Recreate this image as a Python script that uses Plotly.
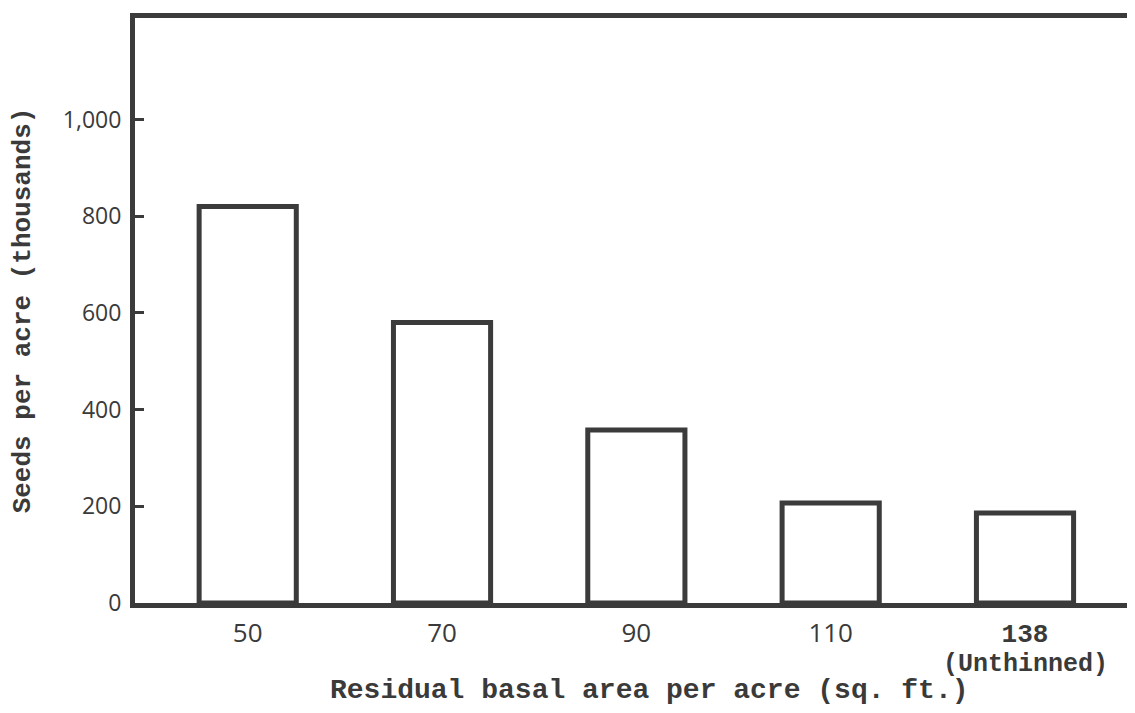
import plotly.graph_objects as go

categories = ["50", "70", "90", "110", "138"]
category_labels = ["50", "70", "90", "110",
                   "<span style='font-family:Liberation Mono;font-weight:bold'>138</span>"]
unthinned_note = "(Unthinned)"
seeds_thousands = [820, 580, 358, 207, 186]
y_tick_values = [0, 200, 400, 600, 800, 1000]
y_tick_labels = ["0", "200", "400", "600", "800", "1,000"]
x_title = "Residual basal area per acre (sq. ft.)"
y_title = "Seeds per acre (thousands)"

ink = "#3b3b3b"
text_ink = "#3a3a3a"
sans = "Open Sans, DejaVu Sans, sans-serif"
mono = "Liberation Mono, Courier New, monospace"

# the page body adds an 8px margin, so the figure is sized to fit the window
fig = go.Figure(
    go.Bar(
        x=categories,
        y=seeds_thousands,
        width=0.5,
        marker=dict(color="white", line=dict(color=ink, width=5)),
        hoverinfo="x+y",
    )
)

fig.update_layout(
    width=1127,
    height=705,
    margin=dict(l=127, r=7, t=10, b=110),
    paper_bgcolor="white",
    plot_bgcolor="white",
    showlegend=False,
    font=dict(family=sans, color=text_ink, size=22),
)

fig.update_xaxes(
    type="category",
    range=[-0.58, 4.53],
    tickvals=categories,
    ticktext=category_labels,
    showline=True,
    linecolor=ink,
    linewidth=5,
    mirror=True,
    showgrid=False,
    ticks="",
    ticklabelstandoff=3,
    automargin=False,
    tickfont=dict(size=26, family=sans, color=text_ink),
)

fig.update_yaxes(
    range=[0, 1210],
    tickvals=y_tick_values,
    ticktext=y_tick_labels,
    showline=True,
    linecolor=ink,
    linewidth=5,
    mirror=True,
    showgrid=False,
    zeroline=False,
    ticks="inside",
    ticklen=9,
    tickwidth=3,
    tickcolor=ink,
    ticklabelstandoff=4,
    automargin=False,
    tickfont=dict(size=23, family=sans, color=text_ink),
    title=dict(
        text=y_title,
        font=dict(size=26, family=mono, color=text_ink, weight="bold"),
        standoff=32,
    ),
)

# category axes place annotations by the category's serial number
fig.add_annotation(
    text=unthinned_note,
    x=categories.index("138"), xref="x",
    y=0, yref="paper",
    yshift=-61, yanchor="middle",
    showarrow=False,
    font=dict(size=25, family=mono, color=text_ink, weight="bold"),
)

fig.add_annotation(
    text=x_title,
    x=0.5186, xref="paper",
    y=0, yref="paper",
    yshift=-87, yanchor="middle",
    showarrow=False,
    font=dict(size=28, family=mono, color=text_ink, weight="bold"),
)

fig.write_html("out.html")
